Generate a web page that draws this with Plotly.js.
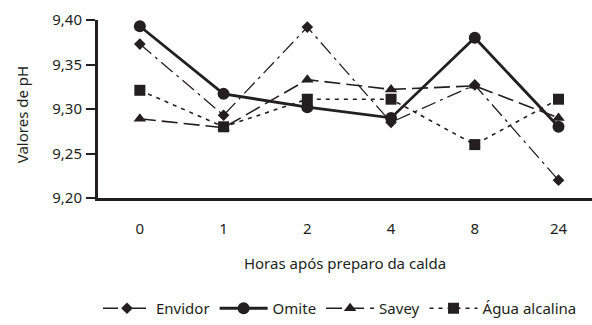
<!DOCTYPE html>
<html><head><meta charset="utf-8">
<script src="https://cdn.plot.ly/plotly-3.0.1.min.js"></script>
<style>html,body{margin:0;padding:0;background:#fff}#c{width:592px;height:325px}</style>
</head><body><div id="c"></div>
<script>
const hours = ["0","1","2","4","8","24"];
const envidor = [9.373, 9.293, 9.392, 9.285, 9.327, 9.220];
const omite   = [9.393, 9.317, 9.302, 9.290, 9.380, 9.280];
const savey   = [9.289, 9.279, 9.333, 9.322, 9.326, 9.290];
const agua    = [9.321, 9.280, 9.311, 9.311, 9.260, 9.311];
const names = ["Envidor","Omite","Savey","Água alcalina"];
const yTitle = "Valores de pH";
const xTitle = "Horas após preparo da calda";

const C = "#231f20";
const traces = [
  {x: hours, y: envidor, name: names[0], mode: "lines+markers",
   line: {color: C, width: 1.3, dash: "15px,5px,3px,5px"}, marker: {symbol: "diamond", size: 9, color: C}},
  {x: hours, y: omite, name: names[1], mode: "lines+markers",
   line: {color: C, width: 2.8}, marker: {symbol: "circle", size: 12, color: C}},
  {x: hours, y: savey, name: names[2], mode: "lines+markers",
   line: {color: C, width: 1.6, dash: "16px,6px"}, marker: {symbol: "triangle-up", size: 11, color: C}},
  {x: hours, y: agua, name: names[3], mode: "lines+markers",
   line: {color: C, width: 1.6, dash: "4px,5px"}, marker: {symbol: "square", size: 11, color: C}}
].map(t => Object.assign(t, {cliponaxis: false}));

const layout = {
  width: 592, height: 325,
  margin: {l: 98, r: 0, t: 20, b: 126},
  separators: ",.",
  font: {family: "Noto Sans, sans-serif", color: C, size: 14},
  showlegend: true,
  legend: {orientation: "h", x: 0.0, xanchor: "left", y: -0.53, yanchor: "top",
           font: {size: 15, color: C}, bgcolor: "rgba(0,0,0,0)", tracegroupgap: 0, itemwidth: 48},
  xaxis: {type: "category", range: [-0.5, 5.4], showgrid: false, zeroline: false,
          showline: true, linecolor: C, linewidth: 3, ticks: "", tickfont: {size: 15},
          ticklabelstandoff: 15,
          title: {text: xTitle, font: {size: 15}, standoff: 22}},
  yaxis: {range: [9.2, 9.4], tickvals: [9.2, 9.25, 9.3, 9.35, 9.4], tickformat: ".2f",
          showgrid: false, zeroline: false, showline: true, linecolor: C, linewidth: 3,
          ticks: "outside", ticklen: 9, tickwidth: 2, tickcolor: C, tickfont: {size: 15},
          ticklabelstandoff: 1},
  annotations: [{text: yTitle, xref: "paper", yref: "paper", x: -0.154, y: 0.47,
                 xanchor: "center", yanchor: "middle", textangle: -90, showarrow: false,
                 font: {size: 15, color: C}}],
  plot_bgcolor: "#fff", paper_bgcolor: "#fff"
};
Plotly.newPlot("c", traces, layout, {displayModeBar: false, staticPlot: true});
</script></body></html>
